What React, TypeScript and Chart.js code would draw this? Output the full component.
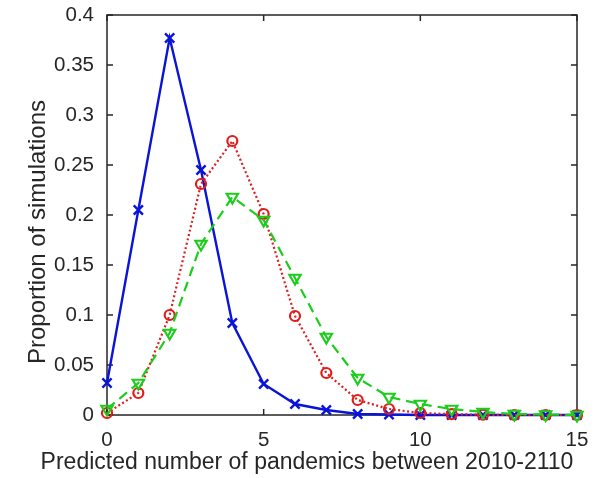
import React, { useEffect, useRef } from "react";
import { Chart, registerables } from "chart.js";

Chart.register(...registerables);

const xValues = [0, 1, 2, 3, 4, 5, 6, 7, 8, 9, 10, 11, 12, 13, 14, 15];
const blueValues = [0.032, 0.205, 0.377, 0.245, 0.092, 0.031, 0.011, 0.005, 0.001, 0.0005, 0, 0, 0, 0, 0, 0];
const redValues = [0.002, 0.022, 0.1, 0.231, 0.274, 0.201, 0.099, 0.042, 0.015, 0.006, 0.002, 0.0008, 0.0003, 0, 0, 0];
const greenValues = [0.006, 0.032, 0.082, 0.171, 0.218, 0.195, 0.137, 0.078, 0.037, 0.018, 0.011, 0.006, 0.003, 0.001, 0.0005, 0];
const xTicks = [0, 5, 10, 15];
const yTicks = [0, 0.05, 0.1, 0.15, 0.2, 0.25, 0.3, 0.35, 0.4];
const xTitle = "Predicted number of pandemics between 2010-2110";
const yTitle = "Proportion of simulations";

const INK = "#262626";
const FONT = "'Liberation Sans', Arial, Helvetica, sans-serif";

const boxPlugin = {
  id: "boxAndTitles",
  beforeDatasetsDraw(chart: any) {
    const { ctx, chartArea: a, scales } = chart;
    ctx.save();
    ctx.strokeStyle = INK;
    ctx.lineWidth = 1.5;
    ctx.strokeRect(a.left, a.top, a.right - a.left, a.bottom - a.top);
    ctx.beginPath();
    const tl = 6;
    for (const v of xTicks) {
      const px = scales.x.getPixelForValue(v);
      ctx.moveTo(px, a.bottom);
      ctx.lineTo(px, a.bottom - tl);
      ctx.moveTo(px, a.top);
      ctx.lineTo(px, a.top + tl);
    }
    for (const v of yTicks) {
      const py = scales.y.getPixelForValue(v);
      ctx.moveTo(a.left, py);
      ctx.lineTo(a.left + tl, py);
      ctx.moveTo(a.right, py);
      ctx.lineTo(a.right - tl, py);
    }
    ctx.stroke();
    ctx.restore();
  },
  afterDraw(chart: any) {
    const { ctx } = chart;
    ctx.save();
    ctx.fillStyle = INK;
    ctx.font = `23px ${FONT}`;
    ctx.textAlign = "center";
    ctx.textBaseline = "alphabetic";
    ctx.fillText(xTitle, 307, 469);
    ctx.translate(45, 232);
    ctx.rotate(-Math.PI / 2);
    ctx.font = `24px ${FONT}`;
    ctx.fillText(yTitle, 0, 0);
    ctx.restore();
  },
};

export default function App() {
  const ref = useRef<HTMLCanvasElement>(null);
  useEffect(() => {
    if (!ref.current) return;
    const mk = (vals: number[]) => xValues.map((x, i) => ({ x, y: vals[i] }));
    const chart = new Chart(ref.current, {
      type: "line",
      data: {
        datasets: [
          {
            label: "A",
            data: mk(blueValues),
            borderColor: "#0a14d8",
            backgroundColor: "#0a14d8",
            borderWidth: 2.4,
            pointStyle: "crossRot",
            pointRadius: 6.5,
            pointBorderWidth: 2.4,
            order: 3,
            clip: false,
          },
          {
            label: "B",
            data: mk(redValues),
            borderColor: "#e01c1c",
            backgroundColor: "rgba(0,0,0,0)",
            borderWidth: 2.2,
            borderDash: [2, 2.5],
            pointStyle: "circle",
            pointRadius: 5,
            pointBorderWidth: 2.2,
            order: 2,
            clip: false,
          },
          {
            label: "C",
            data: mk(greenValues),
            borderColor: "#1ecc1e",
            backgroundColor: "rgba(0,0,0,0)",
            borderWidth: 2.2,
            borderDash: [10, 6],
            pointStyle: "triangle",
            pointRotation: 180,
            pointRadius: 6.5,
            pointBorderWidth: 2.2,
            order: 1,
            clip: false,
          },
        ],
      } as any,
      options: {
        animation: false,
        responsive: false,
        devicePixelRatio: 1,
        layout: { autoPadding: false, padding: { left: 0, top: 15, right: 24, bottom: 0 } },
        plugins: { legend: { display: false }, tooltip: { enabled: false } },
        elements: { line: { tension: 0 } },
        scales: {
          x: {
            type: "linear",
            min: 0,
            max: 15,
            afterBuildTicks: (s: any) => {
              s.ticks = xTicks.map((v) => ({ value: v }));
            },
            afterFit: (s: any) => {
              s.height = 63;
              s.paddingLeft = 0;
              s.paddingRight = 0;
            },
            grid: { display: false, drawTicks: false, tickLength: 0 },
            border: { display: false },
            ticks: {
              padding: 13,
              color: INK,
              font: { family: FONT, size: 20.5 },
              maxRotation: 0,
              callback: (v: any) => String(v),
            },
          },
          y: {
            type: "linear",
            min: 0,
            max: 0.4,
            afterBuildTicks: (s: any) => {
              s.ticks = yTicks.map((v) => ({ value: v }));
            },
            afterFit: (s: any) => {
              s.width = 107;
              s.paddingTop = 0;
              s.paddingBottom = 0;
            },
            grid: { display: false, drawTicks: false, tickLength: 0 },
            border: { display: false },
            ticks: {
              padding: 13,
              color: INK,
              font: { family: FONT, size: 20.5 },
              callback: (v: any) => String(v),
            },
          },
        },
      } as any,
      plugins: [boxPlugin],
    });
    return () => chart.destroy();
  }, []);
  return (
    <div style={{ position: "fixed", left: 0, top: 0, width: 601, height: 478, background: "#fff" }}>
      <canvas ref={ref} width={601} height={478} style={{ display: "block" }} />
    </div>
  );
}
